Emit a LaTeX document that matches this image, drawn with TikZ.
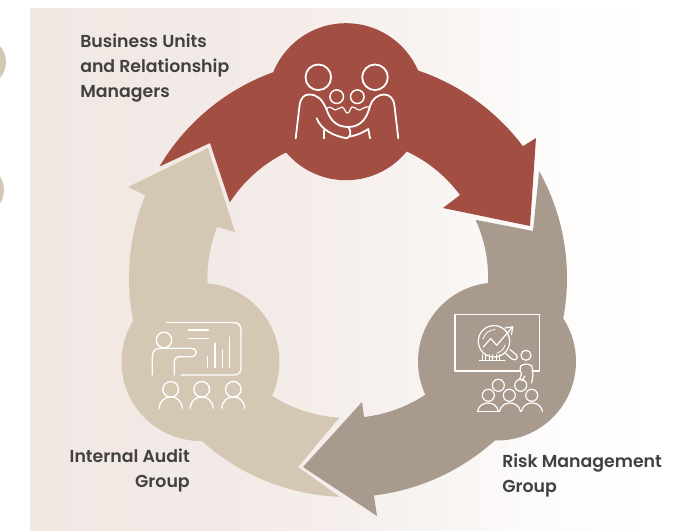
\documentclass[tikz,border=0pt]{standalone}
\usepackage{fontspec}
\usetikzlibrary{calc}
\setmainfont{Poppins}[UprightFont=* Medium,BoldFont=* SemiBold]
\definecolor{bgtint}{HTML}{F1E8E4}
\definecolor{redc}{HTML}{A24E42}
\definecolor{greyc}{HTML}{A99A8E}
\definecolor{tanc}{HTML}{D4C8B5}
\definecolor{txtc}{HTML}{414141}
\pgfdeclarehorizontalshading{bgfade}{100bp}{color(0bp)=(bgtint);color(25bp)=(bgtint);color(42bp)=(bgtint!88!white);color(55bp)=(bgtint!50!white);color(64bp)=(bgtint!12!white);color(72bp)=(white);color(100bp)=(white)}
\tikzset{
  icon/.style={draw=white,line width=#1,line cap=round,line join=round},
  icon/.default=1.1pt,
  lbl/.style={text=txtc,font=\fontsize{13}{18.5}\selectfont\bfseries,inner sep=0pt}
}
\newcommand{\ringR}{219}
\newcommand{\ringr}{140}
\begin{document}
\begin{tikzpicture}[x=0.75pt,y=-0.75pt]
\useasboundingbox (0,0) rectangle (693,531);
\fill[white] (0,0) rectangle (693,531);
\begin{scope}
\clip (0,0) rectangle (693,531);
\fill[tanc] (-18,62) circle[radius=24];
\fill[tanc] (-21,190) circle[radius=25];
\end{scope}
\shade[shading=bgfade] (30,9) rectangle (693,531);
\coordinate (C) at (348,278);
% red arrow
\fill[redc] ($(C)+(-149.4:\ringR)$) arc[start angle=-149.4,end angle=-37,radius=\ringR]
  -- (536,138) -- (530,226) -- (443,208) -- (460,195)
  arc[start angle=-36.5,end angle=-147.2,radius=\ringr]
  -- (210,143) -- cycle;
\fill[redc] (346,101.7) circle[radius=78.5];
% grey arrow
\fill[greyc] ($(C)+(-29.2:\ringR)$) arc[start angle=-29.2,end angle=83.2,radius=\ringR]
  -- (377,516) -- (303,467) -- (362,402) -- (364,417)
  arc[start angle=83.5,end angle=-24.5,radius=\ringr]
  -- (533,231) -- cycle;
\fill[greyc] (497,361.5) circle[radius=79];
% tan arrow
\fill[tanc] ($(C)+(92.1:\ringR)$) arc[start angle=92.1,end angle=202.2,radius=\ringR]
  -- (128,187) -- (208,148) -- (235,232) -- (217,227)
  arc[start angle=201.3,end angle=93.3,radius=\ringr]
  -- (298,467) -- cycle;
\fill[tanc] (200.5,362) circle[radius=79];
% red icon
\begin{scope}[icon=1.35pt]
\draw (318.3,77.3) circle[radius=12.8];
\draw (375,77.3) circle[radius=12.8];
\draw[line width=1.1pt] (336.7,96.7) circle[radius=6.8];
\draw[line width=1.1pt] (357.3,96.7) circle[radius=6.8];
\draw (295.7,138.3) -- (299.5,106) .. controls (300.5,98) and (304,94.5) .. (309,94.5)
  .. controls (318,94.5) and (322,100) .. (326,108) .. controls (330,120) and (336,127) .. (348.3,127)
  .. controls (361,127) and (367,118) .. (370,106) .. controls (372,99) and (378,94.5) .. (384,94.5)
  .. controls (390,94.5) and (394,99) .. (394.5,106) -- (398.3,138.3);
\draw[line width=0.9pt] (327,108.5) .. controls (330,105) and (332,109) .. (335,110) .. controls (338,110) and (340,107) .. (342,107)
  .. controls (345,108) and (345,113) .. (347.5,113) .. controls (350,113) and (350,108) .. (352,107)
  .. controls (355,106.5) and (357,110.5) .. (360,110) .. controls (363,109) and (365,106) .. (369,107);
\draw (316.7,118.3) .. controls (321,130) and (334,136) .. (346.7,138.3) .. controls (351,137) and (351.5,131) .. (348.3,127);
\draw (324.3,138.3) -- (324.3,130);
\draw (370,138.3) -- (368.3,129) .. controls (364,132) and (358,135) .. (350,136.5);
\end{scope}
% tan icon
\begin{scope}[icon=1pt]
\draw (166.7,322.5) -- (233,322.5) .. controls (238,322.5) and (241,325) .. (241,330)
  -- (241,368) .. controls (241,373) and (238,375) .. (233,375) -- (181,375);
\draw (188.3,330) -- (208.3,330);
\draw (188.3,338.3) -- (208.3,338.3);
\draw (207.3,356.7) -- (207.3,367.7);
\draw (215,343.3) -- (215,367.7);
\draw (222.3,350) -- (222.3,367.7);
\draw (229.3,337.3) -- (229.3,367.7);
\draw (164,340) circle[radius=7.8];
\draw (152.3,375) -- (152.3,357) .. controls (152.3,351) and (155,348.3) .. (161,348.3)
  -- (191,348.3) .. controls (198,348.3) and (198,356.7) .. (191,356.7)
  -- (180,356.7) .. controls (176,356.7) and (174.3,358.5) .. (174.3,363) -- (174.3,375);
\foreach \hx in {170.7,201.7,233.3}{
  \draw (\hx,389.3) circle[radius=7.8];
  \draw (\hx-11.5,408.3) .. controls (\hx-11,401) and (\hx-6,396.8) .. (\hx,396.8)
     .. controls (\hx+6,396.8) and (\hx+11,401) .. (\hx+11.5,408.3);
}
\end{scope}
% grey icon
\begin{scope}[icon=0.9pt]
\draw (519.5,371) -- (455,371) -- (455,314.3) -- (539.3,314.3) -- (539.3,371) -- (532,371);
\draw (494,341.3) circle[radius=15.7];
\draw[line width=0.6pt] (483,339) .. controls (485,333) and (489,330) .. (495,329.5);
\draw[line width=0.6pt] (505,345) .. controls (504,349) and (501,352) .. (497,353);
\draw (483.3,347) -- (490.7,338.5) -- (496.7,345.3) -- (512.3,327.3);
\draw (505,328) -- (512.8,326.8) -- (511.5,334.5);
\draw (505.5,353.5) -- (512,359) .. controls (515,361.5) and (519,358) .. (516.5,355) -- (510,349.5);
\draw (479.3,360.5) -- (505,360.5);
\foreach \bx in {482,485.5,489,492.5,496,499.5}{\draw[line width=0.6pt] (\bx,360.5) -- (\bx,354.5);}
\draw (526,355.3) circle[radius=5];
\draw (519.5,379.5) -- (521.5,374) .. controls (520,370) and (520,368) .. (520.5,366)
  .. controls (524,363.5) and (528,363.5) .. (532,366) -- (533,376) -- (531.5,383);
\draw (525,376) -- (521.5,381);
\foreach \hx/\hy in {498.3/385.3,520.7/385.3,488.3/395.3,509.3/395.3,531.7/395.3}{
  \draw (\hx,\hy) circle[radius=6];
}
\foreach \hx in {488,510,532}{
  \draw (\hx-10.5,411.3) .. controls (\hx-9,405.5) and (\hx-5,403) .. (\hx,403)
    .. controls (\hx+5,403) and (\hx+9,405.5) .. (\hx+10.5,411.3);
}
\draw (477.5,411.3) -- (498.5,411.3);
\end{scope}
% labels
\node[lbl,anchor=north west,align=left] (bu) at (80,34) {Business Units\\and Relationship\\Managers};
\node[lbl,anchor=north east,align=right] (ia) at (190,449) {Internal Audit\\Group};
\node[lbl,anchor=north west,align=left] (rm) at (502,454) {Risk Management\\Group};
\end{tikzpicture}
\end{document}
